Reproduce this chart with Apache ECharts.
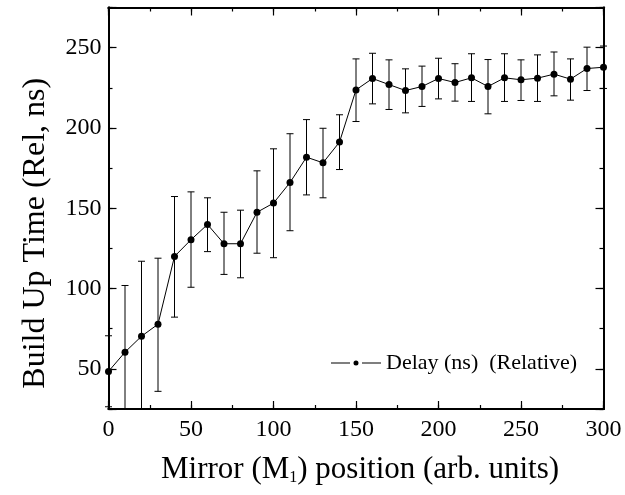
<!DOCTYPE html>
<html>
<head>
<meta charset="utf-8">
<script src="https://cdn.jsdelivr.net/npm/echarts@6/dist/echarts.min.js"></script>
<style>
html,body{margin:0;padding:0;background:#fff;}
#main{width:625px;height:495px;}
</style>
</head>
<body>
<div id="main"></div>
<script>
// Mirror position (arb. units)
var positions = [0,10,20,30,40,50,60,70,80,90,100,110,120,130,140,150,160,170,180,190,200,210,220,230,240,250,260,270,280,290,300];
// Build up time (Rel, ns)
var delays = [48.4,60.4,70.3,77.8,120,130.4,139.9,127.9,127.9,147.5,153.2,166,181.8,178.3,191.2,223.7,230.8,227,223.3,225.8,230.8,228.3,231.2,225.8,231.2,230,231,233.5,230.4,237,237.8];
// error bar upper and lower ends
var errHigh = [70.6,101.9,117,118.9,157.3,160.2,156.5,147.5,148.8,173.3,187,196.4,205.2,199.8,208.2,243,246.5,242.4,236.8,238.5,243.4,240,246.2,242.6,246.2,242.4,245.5,247.3,243,250.3,251];
var errLow  = [26.4,19,23.6,36,82.2,100.8,123,108.8,106.7,122,119.2,136,158.3,156.5,174.1,204,215,211.5,209.4,213.4,218.1,216.7,216.5,208.8,216.5,217.1,216.5,220,217.3,223.3,224.6];

var seriesName = 'Delay (ns)  (Relative)';
var xTitle = 'Mirror (M{sub|1}) position (arb. units)';
var yTitle = 'Build Up Time (Rel, ns)';

var FONT = '"Liberation Serif", "Times New Roman", serif';

var lineData = positions.map(function(x,i){return [x, delays[i]];});
var errData = positions.map(function(x,i){return [x, errLow[i], errHigh[i]];});

function tickAxisX(pos, showLabel, major) {
  return {
    type:'value', position:pos, min:0, max:300, interval: major ? 50 : 25,
    axisLine:{show:true, onZero:false, lineStyle:{color:'#000', width:2}},
    axisTick:{show:true, inside:true, length: major ? 8 : 4, lineStyle:{color:'#000', width:1.2}},
    axisLabel:{show:showLabel, color:'#000', fontFamily:FONT, fontSize:24, margin:9},
    splitLine:{show:false}
  };
}
function tickAxisY(pos, showLabel, major) {
  var a = {
    type:'value', position:pos, min:25, max:275,
    axisLine:{show:true, onZero:false, lineStyle:{color:'#000', width:2}},
    axisTick:{show:true, inside:true, length: major ? 8 : 4, lineStyle:{color:'#000', width:1.2}},
    axisLabel:{show:showLabel, color:'#000', fontFamily:FONT, fontSize:24, margin:7,
      formatter:function(v){ return (Math.round(v) % 50 === 0) ? String(Math.round(v)) : ''; }},
    splitLine:{show:false}
  };
  if (major) { a.splitNumber = 5; } else { a.interval = 25; }
  return a;
}

var xMain = tickAxisX('bottom', true, true);
xMain.name = xTitle;
xMain.nameLocation = 'middle';
xMain.nameGap = 45;
xMain.nameTextStyle = {color:'#000', fontFamily:FONT, fontSize:31, padding:[0,0,0,8],
  rich:{sub:{fontFamily:FONT, fontSize:16, color:'#000', verticalAlign:'bottom', padding:[16,0,0,0]}}};

var yMain = tickAxisY('left', true, true);
yMain.name = yTitle;
yMain.nameLocation = 'middle';
yMain.nameGap = 57;
yMain.nameTextStyle = {color:'#000', fontFamily:FONT, fontSize:32, padding:[0,50,0,0]};

var legendIcon = 'path://M0,5.5L19,5.5L19,6.5L0,6.5Z M31,5.5L50,5.5L50,6.5L31,6.5Z M22.5,6A2.5,2.5,0,1,0,27.5,6A2.5,2.5,0,1,0,22.5,6Z';

var option = {
  backgroundColor:'#fff',
  animation:false,
  grid:{left:108.5, right:21.5, top:7.5, bottom:86},
  xAxis:[ xMain, tickAxisX('bottom', false, false), tickAxisX('top', false, true), tickAxisX('top', false, false) ],
  yAxis:[ yMain, tickAxisY('left', false, false), tickAxisY('right', false, true), tickAxisY('right', false, false) ],
  legend:{
    show:true, left:326, top:347, itemWidth:50, itemHeight:5, itemGap:8,
    icon:legendIcon,
    textStyle:{color:'#000', fontFamily:FONT, fontSize:22},
    data:[{name:seriesName, icon:legendIcon, itemStyle:{color:'#000', borderWidth:0}}]
  },
  series:[
    {
      type:'custom', name:'err', xAxisIndex:0, yAxisIndex:0, z:2,
      renderItem:function(params, api){
        var x = api.value(0);
        var lo = api.coord([x, api.value(1)]);
        var hi = api.coord([x, api.value(2)]);
        var cs = params.coordSys;
        var bottom = cs.y + cs.height, top = cs.y;
        var y1 = Math.min(lo[1], bottom), y2 = Math.max(hi[1], top);
        var cap = 3.5;
        var children = [{type:'line', shape:{x1:hi[0], y1:y2, x2:hi[0], y2:y1}, style:{stroke:'#000', lineWidth:1}}];
        if (lo[1] <= bottom) children.push({type:'line', shape:{x1:lo[0]-cap, y1:lo[1], x2:lo[0]+cap, y2:lo[1]}, style:{stroke:'#000', lineWidth:1}});
        if (hi[1] >= top) children.push({type:'line', shape:{x1:hi[0]-cap, y1:hi[1], x2:hi[0]+cap, y2:hi[1]}, style:{stroke:'#000', lineWidth:1}});
        return {type:'group', children:children};
      },
      data:errData
    },
    {
      type:'line', name:seriesName, xAxisIndex:0, yAxisIndex:0, z:3,
      data:lineData,
      symbol:'circle', symbolSize:7,
      itemStyle:{color:'#000'},
      lineStyle:{color:'#000', width:1}
    }
  ]
};

var chart = echarts.init(document.getElementById('main'), null, {renderer:'canvas'});
chart.setOption(option);
</script>
</body>
</html>
